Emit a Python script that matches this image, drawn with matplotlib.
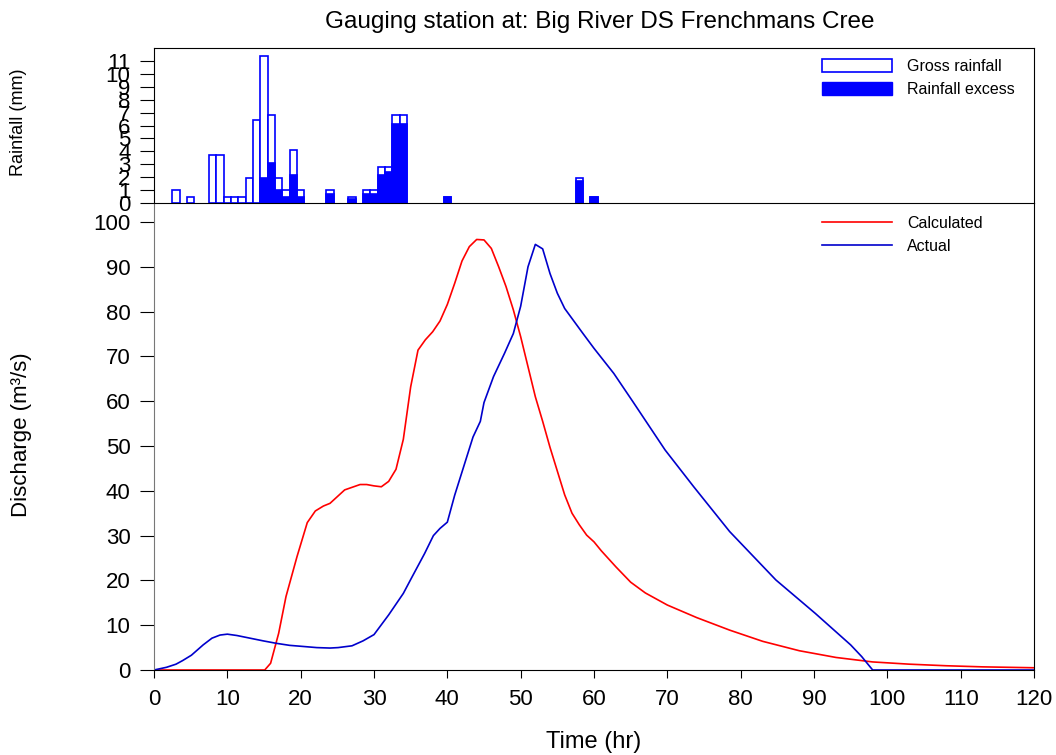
import matplotlib
matplotlib.use("Agg")
import matplotlib.pyplot as plt
from matplotlib.patches import Patch
from matplotlib.lines import Line2D

plt.rcParams['font.family'] = ['Liberation Sans', 'DejaVu Sans']

# Rainfall (hourly bars)
rain_hours = [3, 5, 8, 9, 10, 11, 12, 13, 14, 15, 16, 17, 18, 19, 20,
              24, 27, 29, 30, 31, 32, 33, 34, 40, 58, 60]
gross_rain = [1.0, 0.5, 3.7, 3.7, 0.5, 0.5, 0.5, 1.9, 6.4, 11.4, 6.85, 1.9, 1.0, 4.1, 1.0,
              1.0, 0.5, 1.0, 1.0, 2.8, 2.8, 6.85, 6.85, 0.5, 1.9, 0.5]
excess_rain = [0, 0, 0, 0, 0, 0, 0, 0, 0, 1.9, 3.1, 1.0, 0.5, 2.2, 0.5,
               0.7, 0.3, 0.7, 0.7, 2.2, 2.4, 6.1, 6.1, 0.5, 1.7, 0.5]

# Calculated hydrograph
calc_t = [0, 15.1, 15.9, 17, 18, 19.5, 20.9, 22, 23.1, 24, 26, 28.1, 29, 30, 31, 32, 33, 34,
          35, 36, 37, 38, 39, 40, 41, 42, 43, 44, 45, 46, 47, 48, 49, 50, 51, 52, 53, 54,
          55, 56, 57, 58, 59, 60, 61, 63, 65, 67, 70, 74, 78.5, 83, 88, 93, 98, 103, 108,
          113, 120]
calc_q = [0, 0, 1.5, 8.2, 16.4, 25.3, 32.9, 35.5, 36.6, 37.2, 40.2, 41.4, 41.4, 41.1, 40.9,
          42.1, 44.8, 51.5, 63.2, 71.4, 73.7, 75.5, 77.9, 81.6, 86.3, 91.3, 94.5, 96.1, 96.0,
          94.1, 90.0, 85.6, 80.4, 74.4, 67.7, 61.0, 55.5, 49.7, 44.4, 39.1, 35.0, 32.4, 30.1,
          28.6, 26.6, 23.0, 19.6, 17.2, 14.5, 11.7, 8.9, 6.4, 4.3, 2.8, 1.8, 1.3, 0.95, 0.7,
          0.5]

# Actual (gauged) hydrograph
actual_t = [0, 1.7, 3, 3.9, 5.1, 6.7, 7.9, 9, 10, 11.3, 13.1, 14.9, 16.7, 18.5, 20, 22.2,
            24, 25.1, 27, 28.5, 30, 32, 34, 35.1, 36.9, 38.1, 39, 40, 41, 43.5, 44.5, 45,
            46.3, 47.8, 49, 50, 51, 52, 53, 54, 55, 56, 58.5, 60, 62.7, 65.3, 69.7, 73.6,
            78.5, 84.8, 90.2, 95, 96.5, 98, 120]
actual_q = [0, 0.6, 1.3, 2.1, 3.3, 5.6, 7.1, 7.8, 8.0, 7.7, 7.1, 6.5, 5.95, 5.5, 5.3, 5.0,
            4.9, 5.0, 5.4, 6.5, 7.9, 12.3, 17.1, 20.5, 26.0, 30.0, 31.6, 33.0, 39.0, 52.0,
            55.5, 59.7, 65.5, 70.7, 75.1, 81.2, 90.0, 95.0, 94.0, 88.5, 84.1, 80.7, 75.1,
            71.8, 66.2, 59.9, 49.1, 40.9, 30.9, 20.1, 12.6, 5.6, 3.0, 0, 0]

BLUE = '#0000ff'
LINE_BLUE = '#0000cc'
RED = '#ff0000'
W, H = 1056, 755

fig = plt.figure(figsize=(W / 100, H / 100), dpi=100)

# axes placed in pixel terms to follow the reference layout
left, right = 154, 1034
rain_top, split, main_bottom = 48, 203, 670
ax_rain = fig.add_axes([left / W, 1 - split / H, (right - left) / W, (split - rain_top) / H])
ax = fig.add_axes([left / W, 1 - main_bottom / H, (right - left) / W, (main_bottom - split) / H])

# --- rainfall panel ---
ax_rain.bar(rain_hours, gross_rain, width=1.0, facecolor='white', edgecolor=BLUE,
            linewidth=1.2, zorder=2)
ex_h = [h for h, e in zip(rain_hours, excess_rain) if e > 0]
ex_v = [e for e in excess_rain if e > 0]
ax_rain.bar(ex_h, ex_v, width=1.0, facecolor=BLUE, edgecolor=BLUE, linewidth=1.2, zorder=3)
ax_rain.set_xlim(0, 120)
ax_rain.set_ylim(0, 12)
ax_rain.set_yticks(range(0, 12))
ax_rain.tick_params(axis='y', labelsize=16, length=10, pad=7, direction='out')
ax_rain.tick_params(axis='x', bottom=False, labelbottom=False)
ax_rain.spines['bottom'].set_visible(False)

rain_handles = [Patch(facecolor='white', edgecolor=BLUE, linewidth=1.2),
                Patch(facecolor=BLUE, edgecolor=BLUE)]
ax_rain.legend(rain_handles, ['Gross rainfall', 'Rainfall excess'], loc='upper left',
               bbox_to_anchor=(822 / W, 1 - 59 / H), bbox_transform=fig.transFigure,
               frameon=False, fontsize=11.5, handlelength=4.4, handleheight=0.8,
               handletextpad=0.95, labelspacing=0.5, borderpad=0, borderaxespad=0)

# --- discharge panel ---
ax.plot(calc_t, calc_q, color=RED, linewidth=1.2)
ax.plot(actual_t, actual_q, color=LINE_BLUE, linewidth=1.2)
ax.set_xlim(0, 120)
ax.set_ylim(0, (main_bottom - split) / 4.48)
ax.set_xticks(range(0, 121, 10))
ax.set_yticks(range(0, 101, 10))
ax.tick_params(axis='y', labelsize=16, length=10, pad=7, direction='out')
ax.tick_params(axis='x', labelsize=16, length=6, pad=8, direction='out')
ax.spines['left'].set_color('#777777')

line_handles = [Line2D([], [], color=RED, linewidth=1.2),
                Line2D([], [], color=LINE_BLUE, linewidth=1.2)]
ax.legend(line_handles, ['Calculated', 'Actual'], loc='upper left',
          bbox_to_anchor=(822 / W, 1 - 216 / H), bbox_transform=fig.transFigure,
          frameon=False, fontsize=11.5, handlelength=4.4, handletextpad=0.95,
          labelspacing=0.5, borderpad=0, borderaxespad=0)

# labels and title
fig.text(600 / W, 1 - 22 / H, 'Gauging station at: Big River DS Frenchmans Cree',
         ha='center', va='center', fontsize=17.5)
fig.text(594 / W, 1 - 742 / H, 'Time (hr)', ha='center', va='center', fontsize=17)
fig.text(22 / W, 1 - 435 / H, 'Discharge (m³/s)', ha='center', va='center',
         rotation=90, fontsize=16)
fig.text(19 / W, 1 - 122 / H, 'Rainfall (mm)', ha='center', va='center',
         rotation=90, fontsize=13)

fig.savefig('out.png', dpi=100)
